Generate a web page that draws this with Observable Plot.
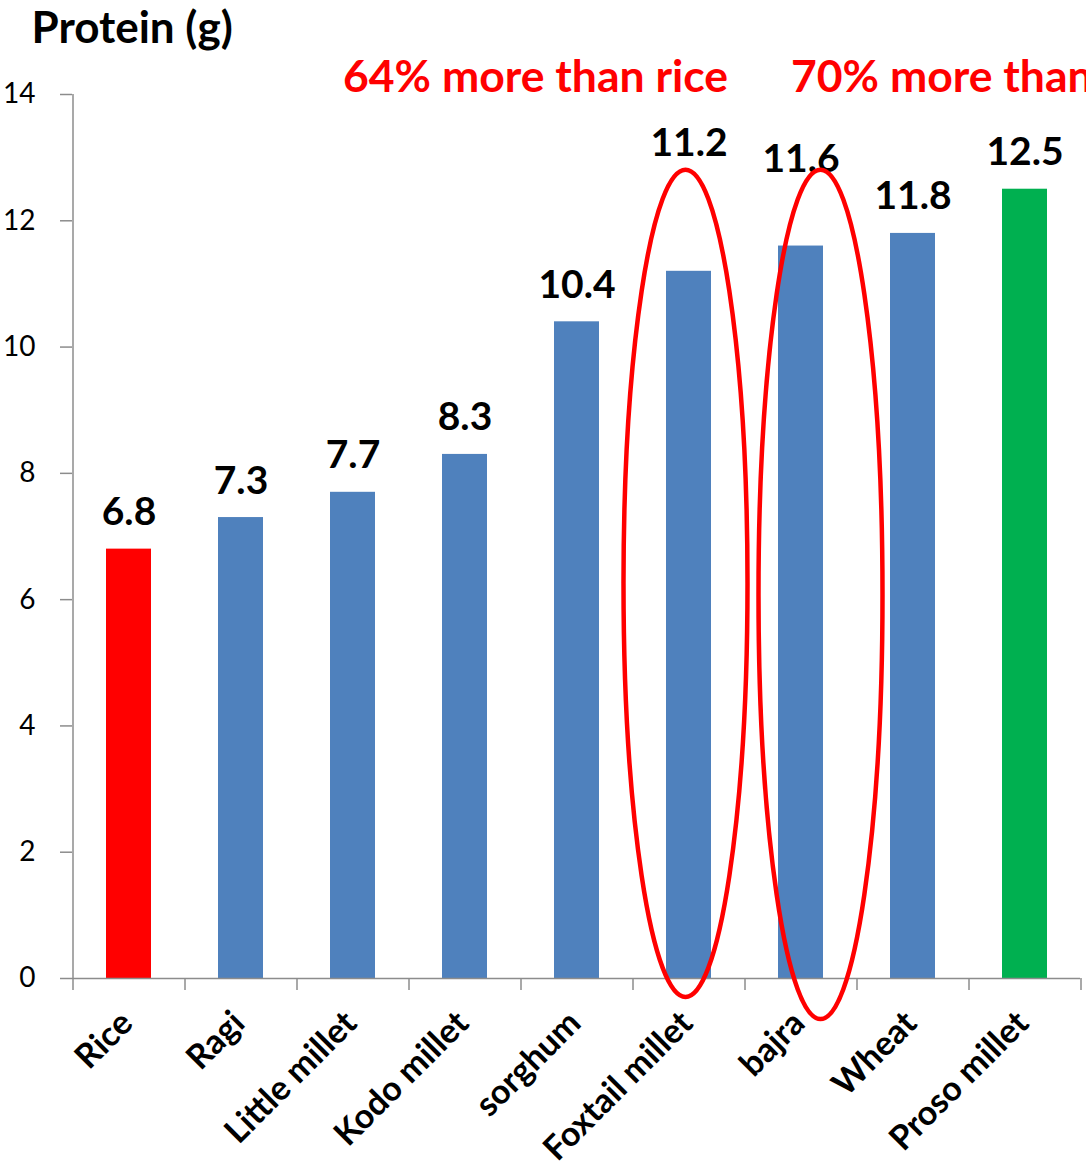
<!DOCTYPE html>
<html>
<head>
<meta charset="utf-8">
<script src="https://cdn.jsdelivr.net/npm/d3@7"></script>
<script src="https://cdn.jsdelivr.net/npm/@observablehq/plot@0.6"></script>
<style>
  html, body { margin: 0; padding: 0; background: #fff; overflow: hidden; }
  #chart svg { display: block; font-family: Lato, "Open Sans", sans-serif; }
</style>
</head>
<body>
<div id="chart"></div>
<script>
// Protein content per 100 g of grain
const categories = ["Rice", "Ragi", "Little millet", "Kodo millet", "sorghum", "Foxtail millet", "bajra", "Wheat", "Proso millet"];
const protein = [6.8, 7.3, 7.7, 8.3, 10.4, 11.2, 11.6, 11.8, 12.5];
const yTicks = [0, 2, 4, 6, 8, 10, 12, 14];

// Callout texts, anchored at a category
const callouts = [
  { at: "Little millet", text: "64% more than rice" },
  { at: "bajra", text: "70% more than rice" }
];
// Highlighted categories (ellipse spans in data units)
const highlights = [
  { category: "Foxtail millet", top: 12.8, bottom: -0.3 },
  { category: "bajra", top: 12.8, bottom: -0.65 }
];

// Styling, kept apart from the values
const barFill = { "Rice": "#ff0000", "Proso millet": "#00b050" };
const defaultFill = "#4f81bd";
const labelLift = { "Foxtail millet": 91, "bajra": 50 };
const ellipseShift = { "Foxtail millet": -3, "bajra": 20 };
const axisGray = "#8c8c8c";

const rows = categories.map((c, i) => ({ category: c, value: protein[i] }));

const W = 1086, H = 1175;
const mL = 72, mR = 6, mT = 94, mB = 197;
const tickLen = 12;
const pxPerUnit = (H - mT - mB) / 14;

const chart = Plot.plot({
  width: W,
  height: H,
  marginLeft: mL,
  marginRight: mR,
  marginTop: mT,
  marginBottom: mB,
  style: { background: "#fff", overflow: "hidden" },
  x: { domain: categories, paddingInner: 0.6, paddingOuter: 0.3, axis: null },
  y: { domain: [0, 14], axis: null },
  color: { type: "identity" },
  marks: [
    Plot.barY(rows, {
      x: "category",
      y: "value",
      fill: d => barFill[d.category] ?? defaultFill
    }),
    // baseline
    Plot.ruleY([0], { stroke: axisGray, strokeWidth: 1.5 }),
    // y axis line at the left edge of the first band
    Plot.ruleX([categories[0]], {
      x: d => d, y1: -tickLen / pxPerUnit, y2: 14,
      dx: -56, stroke: axisGray, strokeWidth: 1.5
    }),
    // category boundary ticks under the baseline
    Plot.ruleX(categories, {
      x: d => d, y1: 0, y2: -tickLen / pxPerUnit,
      dx: 56, stroke: axisGray, strokeWidth: 1.5
    }),
    Plot.axisY({
      ticks: yTicks,
      label: null,
      tickSize: tickLen,
      tickPadding: 25,
      tickFormat: d => String(d),
      stroke: axisGray,
      strokeWidth: 1.5,
      fill: "#000",
      fontSize: 28,
      fontFamily: "Lato"
    }),
    // category labels
    Plot.text(categories, {
      x: d => d,
      y: 0,
      text: d => d,
      rotate: -45,
      textAnchor: "end",
      lineAnchor: "middle",
      dx: -2,
      dy: 39,
      fontSize: 34,
      fontWeight: "bold",
      fontFamily: "Lato",
      fill: "#000"
    }),
    // value labels
    Plot.text(rows, {
      x: "category",
      y: "value",
      text: d => d.value.toFixed(1),
      lineAnchor: "bottom",
      dy: -24,
      fontSize: 39,
      fontWeight: "bold",
      fontFamily: "Lato",
      fill: "#000",
      render(index, scales, values, dimensions, context, next) {
        const g = next(index, scales, values, dimensions, context);
        d3.select(g).selectAll("text").each(function (_, j) {
          const lift = labelLift[rows[index[j]].category] || 0;
          if (lift) this.setAttribute("dy", -lift);
        });
        return g;
      }
    }),
    // callouts
    Plot.text(callouts, {
      x: "at",
      text: "text",
      frameAnchor: "top",
      textAnchor: "start",
      lineAnchor: "bottom",
      dx: -10,
      dy: -3,
      fontSize: 44.5,
      fontWeight: "bold",
      fontFamily: "Lato",
      fill: "#ff0000"
    }),
    // title
    Plot.text(["Protein (g)"], {
      frameAnchor: "top-left",
      textAnchor: "start",
      lineAnchor: "bottom",
      dx: -41,
      dy: -52,
      fontSize: 44,
      fontWeight: "bold",
      fontFamily: "Lato",
      fill: "#000"
    })
  ]
});

// Ellipses around the highlighted bars, placed with the chart's scales
const sx = chart.scale("x");
const sy = chart.scale("y");
d3.select(chart).append("g")
  .attr("fill", "none")
  .attr("stroke", "#ff0000")
  .attr("stroke-width", 4.5)
  .selectAll("ellipse")
  .data(highlights)
  .join("ellipse")
  .attr("cx", d => sx.apply(d.category) + sx.bandwidth / 2 + (ellipseShift[d.category] || 0))
  .attr("cy", d => (sy.apply(d.top) + sy.apply(d.bottom)) / 2)
  .attr("rx", 62)
  .attr("ry", d => (sy.apply(d.bottom) - sy.apply(d.top)) / 2);

document.getElementById("chart").appendChild(chart);
</script>
</body>
</html>
